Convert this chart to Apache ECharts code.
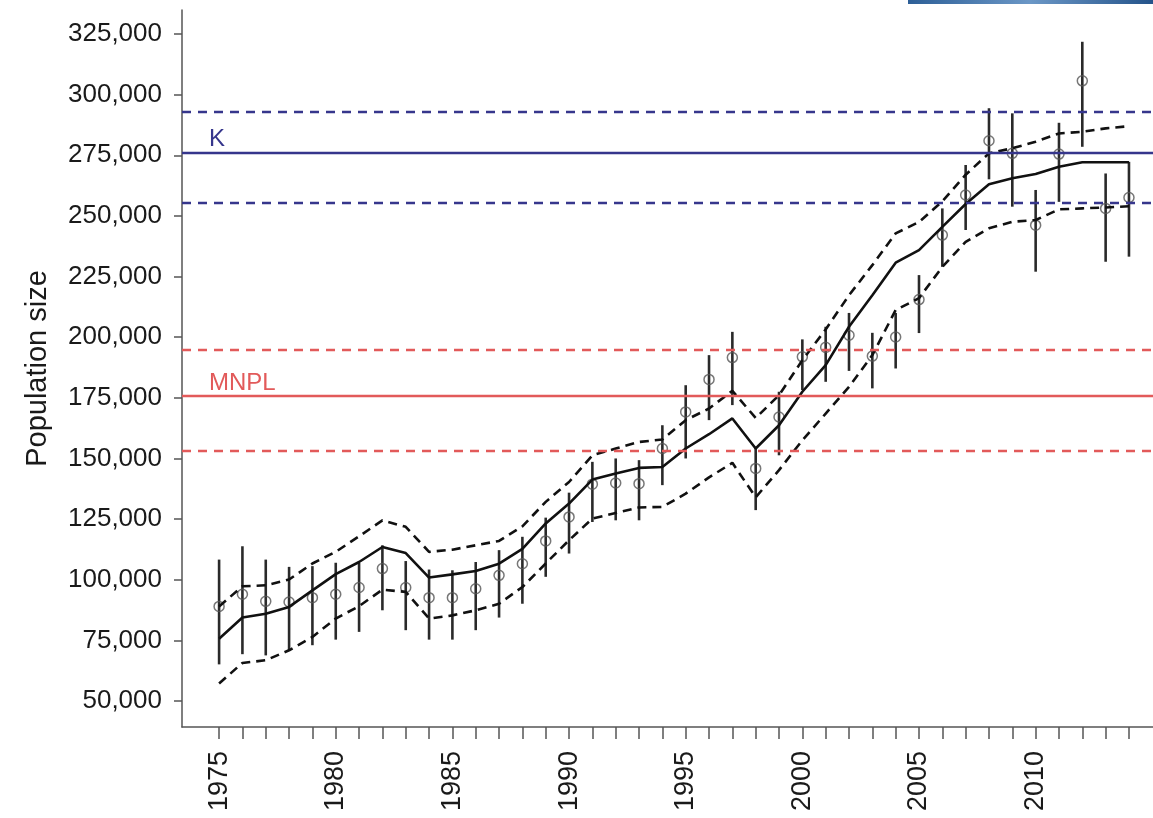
<!DOCTYPE html>
<html>
<head>
<meta charset="utf-8">
<title>Population size</title>
<script src="https://cdn.jsdelivr.net/npm/echarts@6/dist/echarts.min.js"></script>
<style>
  html, body { margin: 0; padding: 0; background: #fff; }
  #chart { width: 1153px; height: 818px; }
</style>
</head>
<body>
<div id="chart"></div>
<script>
'use strict';

// years of the survey
var years = [1975, 1976, 1977, 1978, 1979, 1980, 1981, 1982, 1983, 1984,
    1985, 1986, 1987, 1988, 1989, 1990, 1991, 1992, 1993, 1994,
    1995, 1996, 1997, 1998, 1999, 2000, 2001, 2002, 2003, 2004,
    2005, 2006, 2007, 2008, 2009, 2010, 2011, 2012, 2013, 2014];

// abundance estimates (circles) with their intervals
var estimate = [89000, 94000, 91100, 90800, 92600, 94000, 96800, 104600, 96800, 92600,
    92600, 96300, 101800, 106600, 116000, 125900, 139400, 139900, 139600, 154100,
    169200, 182600, 191600, 145900, 167100, 191900, 195800, 200800, 192200, 200100,
    215500, 242100, 258600, 281000, 275800, 246200, 275500, 305700, 253100, 257600];
var estimateLow = [65100, 69300, 68800, 70900, 73000, 75300, 78500, 87400, 79200, 75300,
    75300, 79200, 84400, 90100, 101200, 110800, 123800, 124500, 124500, 139000,
    150000, 165800, 172000, 128700, 151300, 178200, 181600, 186100, 178900, 187100,
    201700, 229000, 244200, 265100, 253800, 227000, 255800, 278500, 231100, 233200];
var estimateHigh = [108300, 113800, 108300, 105300, 105600, 107000, 106900, 114200, 107700, 104200,
    103900, 107300, 112200, 117700, 125600, 135900, 148600, 150000, 149300, 163700,
    180200, 192600, 202200, 154800, 177500, 199100, 204300, 210000, 201800, 210000,
    225600, 253100, 271000, 294400, 292300, 260700, 288400, 321800, 267500, 272300];

// fitted model trajectory and its bounds
var model = [75700, 84400, 86000, 88800, 95600, 102300, 107300, 113500, 111000, 100900,
    102200, 103600, 106600, 112700, 123200, 131400, 141300, 143800, 146100, 146500,
    154100, 160000, 166500, 154100, 163700, 177500, 188500, 204300, 217300, 230700,
    235900, 245500, 254900, 263100, 265500, 267300, 270300, 272100, 272100, 272100];
var modelLow = [57200, 65700, 66800, 70900, 76400, 84000, 89100, 95900, 95000, 84000,
    85300, 87400, 90100, 97000, 106700, 116300, 125200, 127500, 129800, 130000,
    135500, 142200, 148200, 134000, 145200, 157500, 168500, 179500, 192600, 211200,
    216100, 229000, 239300, 244900, 247600, 248300, 252700, 253100, 253500, 254000];
var modelHigh = [89000, 97300, 97700, 100100, 106700, 111500, 117900, 124500, 121800, 111500,
    112400, 114200, 116000, 122000, 132100, 140300, 151300, 154100, 156800, 157800,
    165800, 170600, 177900, 166700, 176100, 190500, 203200, 217300, 229700, 242800,
    247500, 256000, 267000, 275800, 277900, 280600, 284000, 284700, 286100, 287000];

// carrying capacity and maximum net productivity level, with bounds
var kLevels = [276000, 292800, 255500];
var mnplLevels = [175700, 194700, 153000];

var yTicks = [50000, 75000, 100000, 125000, 150000, 175000, 200000, 225000, 250000, 275000, 300000, 325000];
var xLabelYears = [1975, 1980, 1985, 1990, 1995, 2000, 2005, 2010];

var font = "'Liberation Sans', Arial, sans-serif";
var blue = '#36368c';
var red = '#e25a5a';

var pairs = function (vals) {
    return years.map(function (y, i) { return [y, vals[i]]; });
};

var refLine = function (value, color, type, text) {
    var item = {
        yAxis: value,
        lineStyle: { color: color, width: 2.4, type: type },
        label: { show: false }
    };
    if (text) {
        item.label = {
            show: true,
            formatter: text,
            position: 'insideStartTop',
            distance: [27, 1],
            color: color,
            fontFamily: font,
            fontSize: 24
        };
    }
    return item;
};

var chart = echarts.init(document.getElementById('chart'));

chart.setOption({
    animation: false,
    backgroundColor: '#fff',
    graphic: [{
        type: 'rect',
        shape: { x: 908, y: 0, width: 245, height: 4 },
        style: {
            fill: new echarts.graphic.LinearGradient(0, 0, 1, 0, [
                { offset: 0, color: '#2d5f97' },
                { offset: 0.5, color: '#6b97c6' },
                { offset: 1, color: '#24538a' }
            ])
        }
    }],
    grid: { left: 182, right: 0, top: 10, bottom: 91 },
    xAxis: {
        type: 'value',
        min: 1973.41,
        max: 2015.03,
        splitLine: { show: false },
        axisLine: { lineStyle: { color: '#555', width: 1.5 } },
        axisTick: {
            customValues: years,
            length: 12,
            lineStyle: { color: '#555', width: 1.5 }
        },
        axisLabel: {
            customValues: xLabelYears,
            rotate: 90,
            margin: 24,
            color: '#1a1a1a',
            fontFamily: font,
            fontSize: 27,
            formatter: function (v) { return String(v); }
        }
    },
    yAxis: {
        type: 'value',
        min: 39280,
        max: 334900,
        name: 'Population size',
        nameLocation: 'middle',
        nameGap: 130,
        nameTextStyle: { color: '#1a1a1a', fontFamily: font, fontSize: 29 },
        splitLine: { show: false },
        axisLine: { show: true, lineStyle: { color: '#555', width: 1.5 } },
        axisTick: {
            show: true,
            customValues: yTicks,
            length: 8,
            lineStyle: { color: '#555', width: 1.5 }
        },
        axisLabel: {
            customValues: yTicks,
            margin: 20,
            color: '#1a1a1a',
            fontFamily: font,
            fontSize: 26,
            formatter: function (v) { return v.toLocaleString('en-US'); }
        }
    },
    series: [
        {
            name: 'reference',
            type: 'line',
            data: [],
            silent: true,
            markLine: {
                symbol: 'none',
                silent: true,
                animation: false,
                data: [
                    refLine(kLevels[0], blue, 'solid', 'K'),
                    refLine(kLevels[1], blue, [9, 7]),
                    refLine(kLevels[2], blue, [9, 7]),
                    refLine(mnplLevels[0], red, 'solid', 'MNPL'),
                    refLine(mnplLevels[1], red, [9, 7]),
                    refLine(mnplLevels[2], red, [9, 7])
                ]
            }
        },
        {
            name: 'model upper',
            type: 'line',
            data: pairs(modelHigh),
            symbol: 'none',
            lineStyle: { color: '#111', width: 2.6, type: [9, 6] }
        },
        {
            name: 'model lower',
            type: 'line',
            data: pairs(modelLow),
            symbol: 'none',
            lineStyle: { color: '#111', width: 2.6, type: [9, 6] }
        },
        {
            name: 'model',
            type: 'line',
            data: pairs(model),
            symbol: 'none',
            lineStyle: { color: '#111', width: 2.6 }
        },
        {
            name: 'interval',
            type: 'custom',
            data: years.map(function (y, i) { return [y, estimateLow[i], estimateHigh[i]]; }),
            encode: { x: 0, y: [1, 2] },
            renderItem: function (params, api) {
                var lo = api.coord([api.value(0), api.value(1)]);
                var hi = api.coord([api.value(0), api.value(2)]);
                return {
                    type: 'line',
                    shape: { x1: lo[0], y1: lo[1], x2: hi[0], y2: hi[1] },
                    style: { stroke: '#2a2a2a', lineWidth: 2.6 }
                };
            }
        },
        {
            name: 'estimate',
            type: 'scatter',
            data: pairs(estimate),
            symbol: 'circle',
            symbolSize: 10,
            itemStyle: { color: 'rgba(0,0,0,0)', borderColor: '#555', borderWidth: 1.5 }
        }
    ]
});
</script>
</body>
</html>
